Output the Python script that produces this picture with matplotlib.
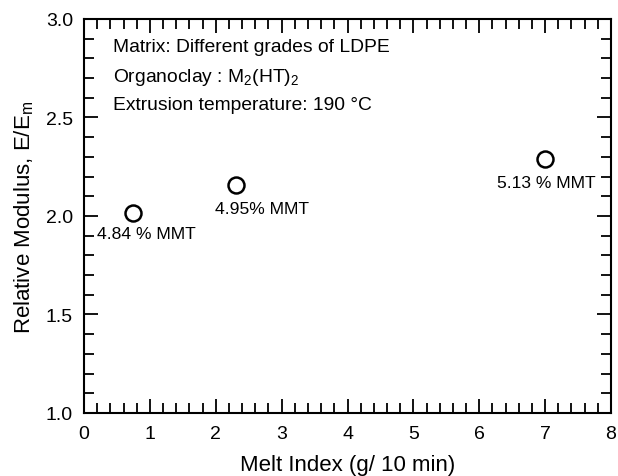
import matplotlib
matplotlib.use("Agg")
import matplotlib.pyplot as plt
from matplotlib.ticker import MultipleLocator, FormatStrFormatter

plt.rcParams['font.family'] = ['Liberation Sans', 'DejaVu Sans']
plt.rcParams['mathtext.fontset'] = 'custom'
plt.rcParams['mathtext.rm'] = 'Liberation Sans'
plt.rcParams['mathtext.it'] = 'Liberation Sans'

# Data
melt_index = [0.75, 2.3, 7.0]
relative_modulus = [2.015, 2.155, 2.29]
clay_labels = ["4.84 % MMT", "4.95% MMT", "5.13 % MMT"]
label_offsets = [(9.5, -15), (19, -16.5), (0.5, -17)]

fig = plt.figure(figsize=(6.18, 4.77), dpi=100)
ax = fig.add_axes([0.1359, 0.1321, 0.8528, 0.8260])

ax.plot(melt_index, relative_modulus, linestyle='none', marker='o',
        markersize=11.5, markerfacecolor='white', markeredgecolor='black',
        markeredgewidth=1.8)

for x, y, lab, off in zip(melt_index, relative_modulus, clay_labels, label_offsets):
    ax.annotate(lab, (x, y), xytext=off, textcoords='offset points',
                ha='center', va='center', fontsize=12.6)

ax.set_xlim(0, 8)
ax.set_ylim(1.0, 3.0)
ax.xaxis.set_major_locator(MultipleLocator(1))
ax.xaxis.set_minor_locator(MultipleLocator(0.2))
ax.yaxis.set_major_locator(MultipleLocator(0.5))
ax.yaxis.set_minor_locator(MultipleLocator(0.1))
ax.xaxis.set_major_formatter(FormatStrFormatter('%d'))
ax.yaxis.set_major_formatter(FormatStrFormatter('%.1f'))

ax.tick_params(which='both', direction='in', top=True, right=True,
               width=1.3, labelsize=14)
ax.tick_params(axis='x', which='both', pad=8.5)
ax.tick_params(axis='y', which='both', pad=8)
ax.tick_params(which='major', length=10)
ax.tick_params(which='minor', length=7)
for sp in ax.spines.values():
    sp.set_linewidth(1.5)

ax.set_xlabel("Melt Index (g/ 10 min)", fontsize=16, labelpad=9)
ax.set_ylabel("Relative Modulus, E/E$_\\mathrm{m}$", fontsize=16, labelpad=7)

info_lines = ["Matrix: Different grades of LDPE",
              "Organoclay : M$_2$(HT)$_2$",
              "Extrusion temperature: 190 \u00b0C"]
info_y = [0.929, 0.855, 0.784]
for txt, yy in zip(info_lines, info_y):
    ax.text(0.055, yy, txt, transform=ax.transAxes, ha='left', va='center',
            fontsize=13.9)

fig.savefig("out.png", dpi=100)
